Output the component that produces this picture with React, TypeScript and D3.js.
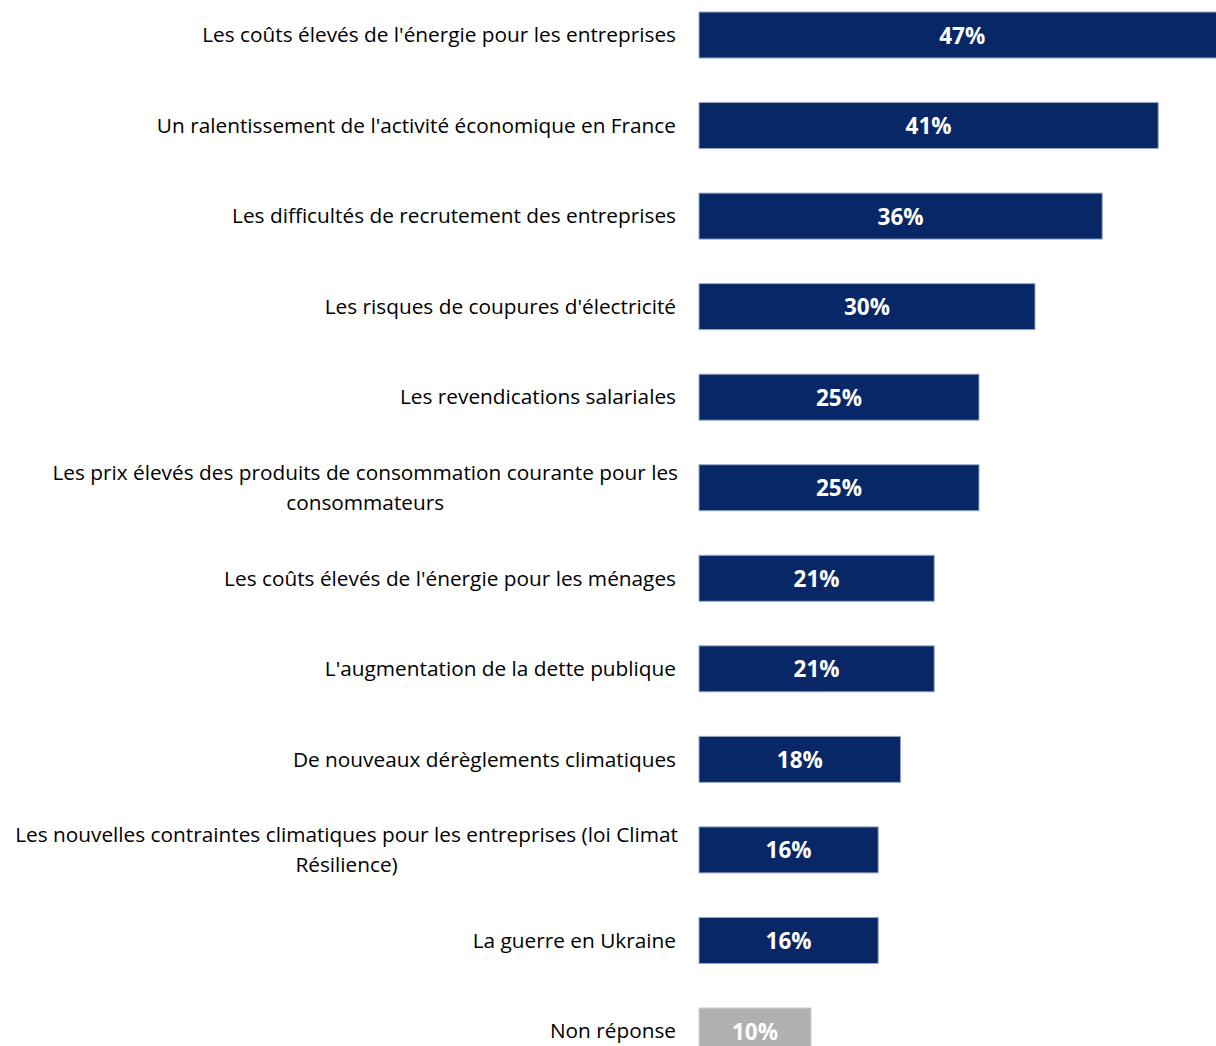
import React from "react";
import * as d3 from "d3";

const categories: string[][] = [
  ["Les coûts élevés de l'énergie pour les entreprises"],
  ["Un ralentissement de l'activité économique en France"],
  ["Les difficultés de recrutement des entreprises"],
  ["Les risques de coupures d'électricité"],
  ["Les revendications salariales"],
  ["Les prix élevés des produits de consommation courante pour les", "consommateurs"],
  ["Les coûts élevés de l'énergie pour les ménages"],
  ["L'augmentation de la dette publique"],
  ["De nouveaux dérèglements climatiques"],
  ["Les nouvelles contraintes climatiques pour les entreprises (loi Climat", "Résilience)"],
  ["La guerre en Ukraine"],
  ["Non réponse"],
];
const values: number[] = [47, 41, 36, 30, 25, 25, 21, 21, 18, 16, 16, 10];
const isNonResponse: boolean[] = [false, false, false, false, false, false, false, false, false, false, false, true];

const W = 1216;
const H = 1046;
const LABEL_FONT = "'Open Sans', Lato, sans-serif";
const LABEL_SIZE = 20.8;

export default function App() {
  const idx = categories.map((_, i) => i);
  const y = d3.scalePoint<number>().domain(idx).range([35, 1031]);
  const x = d3.scaleLinear().domain([0, 100]).range([699, 699 + 1120]);
  const barH = 46;

  return (
    <svg
      width={W}
      height={H}
      style={{ position: "absolute", left: 0, top: 0, background: "#fff" }}
    >
      {idx.map((i) => {
        const cy = y(i)!;
        const lines = categories[i];
        const multi = lines.length > 1;
        const fill = isNonResponse[i] ? "#B0B0B0" : "#072767";
        const x0 = x(0);
        const x1 = x(values[i]);
        return (
          <g key={i}>
            <rect
              x={x0}
              y={cy - barH / 2}
              width={x1 - x0}
              height={barH}
              fill={fill}
              stroke={isNonResponse[i] ? "#d0d0d0" : "#9AA9C6"}
              strokeWidth={1}
            />
            <text
              x={(x0 + x1) / 2}
              y={cy}
              dy="0.38em"
              textAnchor="middle"
              fill="#fff"
              fontFamily={LABEL_FONT}
              fontWeight="bold"
              fontSize={22.5}
            >
              {values[i]}%
            </text>
            {multi ? (
              <MultiLabel lines={lines} cy={cy} />
            ) : (
              <text
                x={676}
                y={cy}
                dy="0.35em"
                textAnchor="end"
                fill="#000"
                fontFamily={LABEL_FONT}
                fontSize={LABEL_SIZE}
              >
                {lines[0]}
              </text>
            )}
          </g>
        );
      })}
    </svg>
  );
}

function MultiLabel({ lines, cy }: { lines: string[]; cy: number }) {
  const ref = React.useRef<SVGGElement>(null);
  const [cx, setCx] = React.useState<number | null>(null);
  React.useLayoutEffect(() => {
    if (!ref.current) return;
    const texts = Array.from(ref.current.querySelectorAll("text")) as SVGTextElement[];
    const maxW = d3.max(texts, (t) => t.getComputedTextLength()) || 0;
    setCx(678 - maxW / 2);
  }, []);
  const lineGap = 30;
  const start = cy - ((lines.length - 1) * lineGap) / 2;
  return (
    <g ref={ref}>
      {lines.map((l, k) => (
        <text
          key={k}
          x={cx ?? 400}
          y={start + k * lineGap}
          dy="0.35em"
          textAnchor="middle"
          fill="#000"
          fontFamily={LABEL_FONT}
          fontSize={LABEL_SIZE}
        >
          {l}
        </text>
      ))}
    </g>
  );
}
